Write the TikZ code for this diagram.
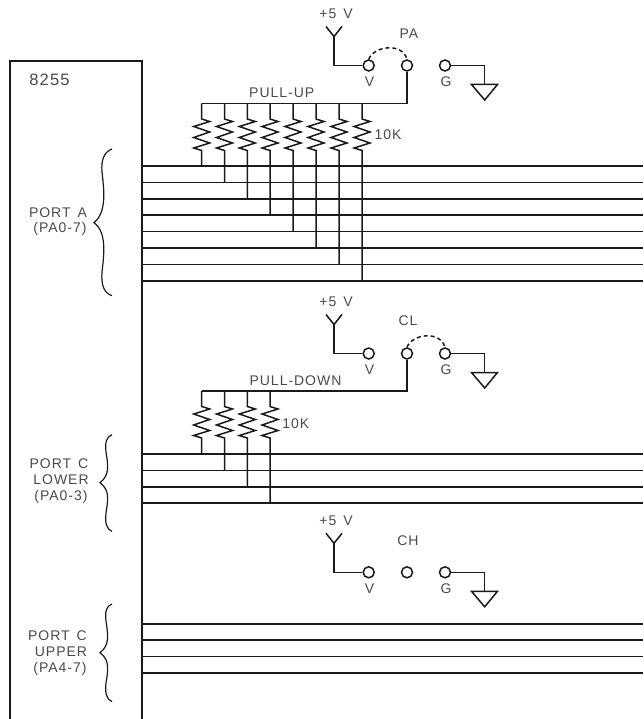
\documentclass[tikz,border=0pt]{standalone}
\usepackage{fontspec}
\setmainfont[LetterSpace=7]{Liberation Sans}
\definecolor{ink}{HTML}{1A1A1A}
\definecolor{lab}{HTML}{4A4A4A}
\tikzset{
  wire/.style={draw=ink,line width=1.5pt,line join=miter},
  term/.style={circle,draw=ink,line width=1.5pt,fill=white,minimum size=11pt,inner sep=0pt},
  lbl/.style={text=lab,inner sep=0pt,font=\fontsize{14}{16}\selectfont},
  biglbl/.style={text=lab,inner sep=0pt,font=\fontsize{16.5}{18}\selectfont},
  jumper/.style={draw=ink,line width=1.5pt,dash pattern=on 4pt off 3pt},
  brace/.style={draw=ink,line width=1.2pt},
}
\newcommand{\jackset}[2]{% prefix, y of terminals
  \coordinate (#1fork) at (334,#2-29);
  \coordinate (#1corner) at (334,#2);
  \coordinate (#1armL) at (326,#2-39);
  \coordinate (#1armR) at (342,#2-39);
  \node[term] (#1V) at (368.7,#2) {};
  \node[term] (#1M) at (407,#2) {};
  \node[term] (#1G) at (445,#2) {};
  \coordinate (#1gc) at (484.7,#2+0.5);
  \coordinate (#1gt) at (484.7,#2+19);
  \coordinate (#1gl) at (471.5,#2+19);
  \coordinate (#1gr) at (497.5,#2+19);
  \coordinate (#1gb) at (484.7,#2+34.5);
  \draw[wire] (#1armL) -- (#1fork) -- (#1armR);
  \draw[wire] (#1fork) -- (#1corner) -- (#1V);
  \draw[wire] (#1G.east) -- (#1G.east -| #1gc) -- (#1gt);
  \draw[wire] (#1gl) -- (#1gr) -- (#1gb) -- cycle;
  \node[lbl] (#1plus) at (336,#2-51.5) {+5\hspace{0.5em}V};
  \node[lbl] (#1Vt) at (369.5,#2+16) {V};
  \node[lbl] (#1Gt) at (446,#2+16) {G};
}
\newcommand{\resistor}[4]{% name, x, bus-y, line-y
  \coordinate (#1t) at (#2,#3);
  \coordinate (#1b) at (#2,#4);
  \draw[wire] (#1t) -- (#2,#3+15.5) -- (#2+8,#3+18) -- (#2-8,#3+23) -- (#2+8,#3+28.5) -- (#2-8,#3+34) -- (#2+8,#3+39.5) -- (#2-8,#3+44.5) -- (#2,#3+47) -- (#1b);
}
\begin{document}
\begin{tikzpicture}[x=1pt,y=-1pt]
\useasboundingbox (0,0) rectangle (643,719);
% chip outline
\coordinate (cbl) at (10,719);
\coordinate (ctl) at (10,61);
\coordinate (ctr) at (141.5,61);
\coordinate (cbr) at (141.5,719);
\draw[draw=ink,line width=2pt] (cbl) -- (ctl) -- (ctr) -- (cbr);
\node[biglbl] (chip) at (49.5,80) {8255};
% port lines
\foreach \i/\y in {1/166,2/182.5,3/199,4/215,5/231.5,6/248,7/264.5,8/281}{
  \coordinate (al\i) at (142,\y);
  \coordinate (ar\i) at (643,\y);
  \draw[wire] (al\i) -- (ar\i);
}
\foreach \i/\y in {1/454,2/470.5,3/487,4/503}{
  \coordinate (bl\i) at (142,\y);
  \coordinate (br\i) at (643,\y);
  \draw[wire] (bl\i) -- (br\i);
}
\foreach \i/\y in {1/624,2/640,3/656.5,4/673}{
  \coordinate (cl\i) at (142,\y);
  \coordinate (cr\i) at (643,\y);
  \draw[wire] (cl\i) -- (cr\i);
}
% jack sets
\jackset{a}{65.5}
\jackset{b}{353.5}
\jackset{c}{572.3}
\node[lbl] (pa) at (409,34) {PA};
\node[lbl] (cll) at (408,321) {CL};
\node[lbl] (ch) at (408,541) {CH};
\draw[jumper] (aV.north) .. controls (374,46) and (402,42) .. (aM.north);
\draw[jumper] (bM.north) .. controls (412,334) and (440,330) .. (bG.north);
% pull-up
\coordinate (abusL) at (201.7,103.5);
\coordinate (abusR) at (aM |- abusL);
\draw[wire] (abusL) -- (abusR) -- (aM);
\foreach \i/\x/\y in {1/201.7/166,2/224.5/182.5,3/247.3/199,4/270/215,5/293/231.5,6/316/248,7/339/264.5,8/362/281}{
  \resistor{ra\i}{\x}{103.5}{\y}
}
\node[lbl] (pu) at (281.7,93) {PULL-UP};
\node[lbl] (ka) at (388,135) {10K};
% pull-down
\coordinate (bbusL) at (201.7,391);
\coordinate (bbusR) at (bM |- bbusL);
\draw[wire] (bbusL) -- (bbusR) -- (bM);
\foreach \i/\x/\y in {1/201.7/454,2/224.5/470.5,3/247.3/487,4/270/503}{
  \resistor{rb\i}{\x}{391}{\y}
}
\node[lbl] (pd) at (295.5,381) {PULL-DOWN};
\node[lbl] (kb) at (295.7,424) {10K};
% braces
\draw[brace] (112,149) .. controls (104,152) and (101,160) .. (102,172) .. controls (104,190) and (107,212) .. (94,222.7) .. controls (107,232) and (104,255) .. (102,272) .. controls (101,285) and (104,293) .. (112,295.7);
\draw[brace] (112,434.7) .. controls (106,437) and (105,443) .. (106,452) .. controls (108,465) and (110,475) .. (100,482.7) .. controls (110,490) and (108,500) .. (106,513) .. controls (105,522) and (106,529) .. (112,531.5);
\draw[brace] (112,604) .. controls (106,606) and (105,612) .. (106,621) .. controls (108,635) and (110,645) .. (100,652.7) .. controls (110,660) and (108,670) .. (106,683) .. controls (105,692) and (106,699) .. (112,701.7);
% port labels
\node[lbl] (p1) at (58,213) {PORT\hspace{0.5em}A};
\node[lbl] (p2) at (60,229) {(PA0-7)};
\node[lbl] (p3) at (59,464) {PORT\hspace{0.5em}C};
\node[lbl] (p4) at (61,480) {LOWER};
\node[lbl] (p5) at (61,497) {(PA0-3)};
\node[lbl] (p6) at (57.5,636) {PORT\hspace{0.5em}C};
\node[lbl] (p7) at (61,652) {UPPER};
\node[lbl] (p8) at (60,669) {(PA4-7)};
\end{tikzpicture}
\end{document}
